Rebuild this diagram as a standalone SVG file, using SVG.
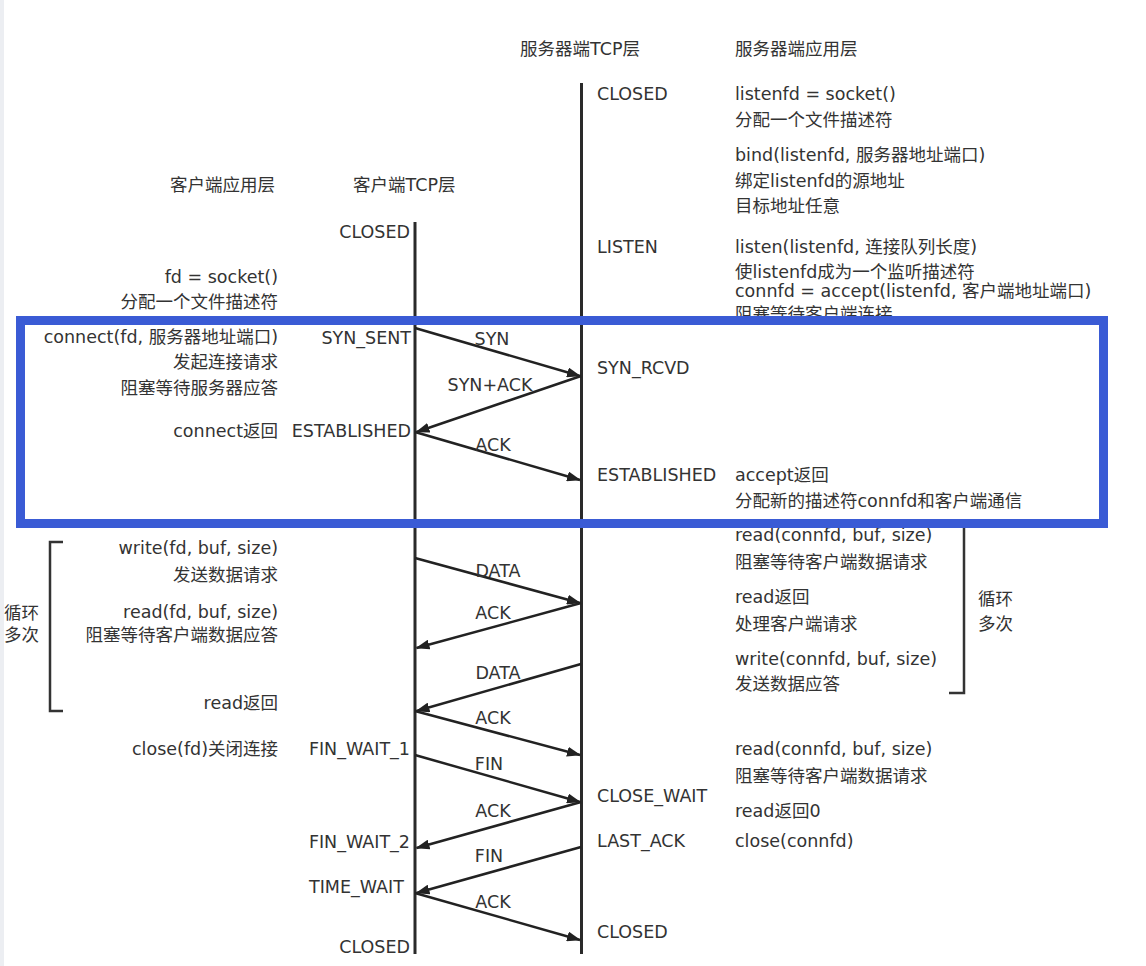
<svg xmlns="http://www.w3.org/2000/svg" width="1146" height="966" viewBox="0 0 1146 966">
<defs>
<style>
text{font-family:"DejaVu Sans","Noto Sans CJK SC",sans-serif;font-size:17.5px;fill:#333}
.r{text-anchor:end}
.m{text-anchor:middle}
.life{stroke:#2a2a2a;stroke-width:3;fill:none}
.msg{stroke:#222;stroke-width:2.5;fill:none;marker-end:url(#ah)}
.brk{stroke:#333;stroke-width:2.5;fill:none}
.hl{fill:none;stroke:#3a5bd5;stroke-width:9}
</style>
<marker id="ah" viewBox="0 0 14 10" refX="13" refY="5" markerWidth="14" markerHeight="10" markerUnits="userSpaceOnUse" orient="auto"><path d="M0,0 L14,5 L0,10 z" fill="#222"/></marker>
</defs>
<rect x="0" y="0" width="1146" height="966" fill="#ffffff"/>
<rect x="0" y="0" width="4" height="966" fill="#eceef2"/>

<g id="headers">
<text x="520" y="55">服务器端TCP层</text>
<text x="735" y="55">服务器端应用层</text>
<text x="170" y="191">客户端应用层</text>
<text x="353" y="191">客户端TCP层</text>
</g>

<g id="lifelines">
<line class="life" x1="415" y1="222" x2="415" y2="954"/>
<line class="life" x1="581.5" y1="83" x2="581.5" y2="954"/>
</g>

<g id="connectors">
<line class="msg" x1="415" y1="328" x2="580" y2="376"/>
<line class="msg" x1="581" y1="376" x2="416.5" y2="432"/>
<line class="msg" x1="415" y1="432" x2="580" y2="480"/>
<line class="msg" x1="415" y1="558" x2="580" y2="603"/>
<line class="msg" x1="581" y1="603" x2="416.5" y2="648"/>
<line class="msg" x1="581" y1="664" x2="416.5" y2="711"/>
<line class="msg" x1="415" y1="711" x2="580" y2="755"/>
<line class="msg" x1="415" y1="755" x2="580" y2="802"/>
<line class="msg" x1="581" y1="802" x2="416.5" y2="848"/>
<line class="msg" x1="581" y1="847" x2="416.5" y2="893"/>
<line class="msg" x1="415" y1="893" x2="580" y2="940"/>
<path class="brk" d="M63,542 H50 V711 H63"/>
<path class="brk" d="M949,522 H964 V693 H949"/>
</g>

<g id="msg-labels">
<text class="m" x="492" y="345">SYN</text>
<text class="m" x="490" y="391">SYN+ACK</text>
<text class="m" x="493" y="451">ACK</text>
<text class="m" x="498" y="577">DATA</text>
<text class="m" x="493" y="619">ACK</text>
<text class="m" x="498" y="679">DATA</text>
<text class="m" x="493" y="724">ACK</text>
<text class="m" x="489" y="770">FIN</text>
<text class="m" x="493" y="817">ACK</text>
<text class="m" x="489" y="862">FIN</text>
<text class="m" x="493" y="908">ACK</text>
</g>

<g id="client-states">
<g id="c-closed1"><text class="r" x="410" y="238">CLOSED</text></g>
<g id="c-synsent"><text class="r" x="411" y="344">SYN_SENT</text></g>
<g id="c-est"><text class="r" x="411" y="437">ESTABLISHED</text></g>
<g id="c-fw1"><text class="r" x="410" y="755">FIN_WAIT_1</text></g>
<g id="c-fw2"><text class="r" x="410" y="848">FIN_WAIT_2</text></g>
<g id="c-tw"><text x="309" y="893">TIME_WAIT</text></g>
<g id="c-closed2"><text class="r" x="410" y="953">CLOSED</text></g>
</g>

<g id="server-states">
<g id="s-closed1"><text x="597" y="100">CLOSED</text></g>
<g id="s-listen"><text x="597" y="253">LISTEN</text></g>
<g id="s-synrcvd"><text x="597" y="374">SYN_RCVD</text></g>
<g id="s-est"><text x="597" y="481">ESTABLISHED</text></g>
<g id="s-closewait"><text x="597" y="802">CLOSE_WAIT</text></g>
<g id="s-lastack"><text x="597" y="847">LAST_ACK</text></g>
<g id="s-closed2"><text x="597" y="938">CLOSED</text></g>
</g>

<g id="client-app">
<g id="ca-socket"><text class="r" x="278" y="283">fd = socket()</text><text class="r" x="278" y="308">分配一个文件描述符</text></g>
<g id="ca-connect"><text class="r" x="278" y="343">connect(fd, 服务器地址端口)</text><text class="r" x="278" y="368">发起连接请求</text><text class="r" x="278" y="394">阻塞等待服务器应答</text></g>
<g id="ca-connret"><text class="r" x="278" y="437">connect返回</text></g>
<g id="ca-write"><text class="r" x="278" y="554">write(fd, buf, size)</text><text class="r" x="278" y="581">发送数据请求</text></g>
<g id="ca-read"><text class="r" x="278" y="618">read(fd, buf, size)</text><text class="r" x="278" y="641">阻塞等待客户端数据应答</text></g>
<g id="ca-readret"><text class="r" x="278" y="709">read返回</text></g>
<g id="ca-close"><text class="r" x="278" y="755">close(fd)关闭连接</text></g>
<g id="ca-loop"><text x="4" y="619">循环</text><text x="4" y="641">多次</text></g>
</g>

<g id="server-app">
<g id="sa-socket"><text x="735" y="100">listenfd = socket()</text><text x="735" y="126">分配一个文件描述符</text></g>
<g id="sa-bind"><text x="735" y="161">bind(listenfd, 服务器地址端口)</text><text x="735" y="187">绑定listenfd的源地址</text><text x="735" y="212">目标地址任意</text></g>
<g id="sa-listen"><text x="735" y="253">listen(listenfd, 连接队列长度)</text><text x="735" y="278">使listenfd成为一个监听描述符</text></g>
<g id="sa-accept"><text x="735" y="297">connfd = accept(listenfd, 客户端地址端口)</text><text x="735" y="320">阻塞等待客户端连接</text></g>
<g id="sa-acceptret"><text x="735" y="481">accept返回</text><text x="735" y="507">分配新的描述符connfd和客户端通信</text></g>
<g id="sa-read"><text x="735" y="541">read(connfd, buf, size)</text><text x="735" y="568">阻塞等待客户端数据请求</text></g>
<g id="sa-readret"><text x="735" y="603">read返回</text><text x="735" y="630">处理客户端请求</text></g>
<g id="sa-write"><text x="735" y="665">write(connfd, buf, size)</text><text x="735" y="690">发送数据应答</text></g>
<g id="sa-loop"><text x="978" y="605">循环</text><text x="978" y="630">多次</text></g>
<g id="sa-read2"><text x="735" y="755">read(connfd, buf, size)</text><text x="735" y="782">阻塞等待客户端数据请求</text></g>
<g id="sa-readret0"><text x="735" y="817">read返回0</text></g>
<g id="sa-close"><text x="735" y="847">close(connfd)</text></g>
</g>

<g id="highlight">
<rect class="hl" x="20.5" y="320.5" width="1083" height="203"/>
</g>
</svg>
